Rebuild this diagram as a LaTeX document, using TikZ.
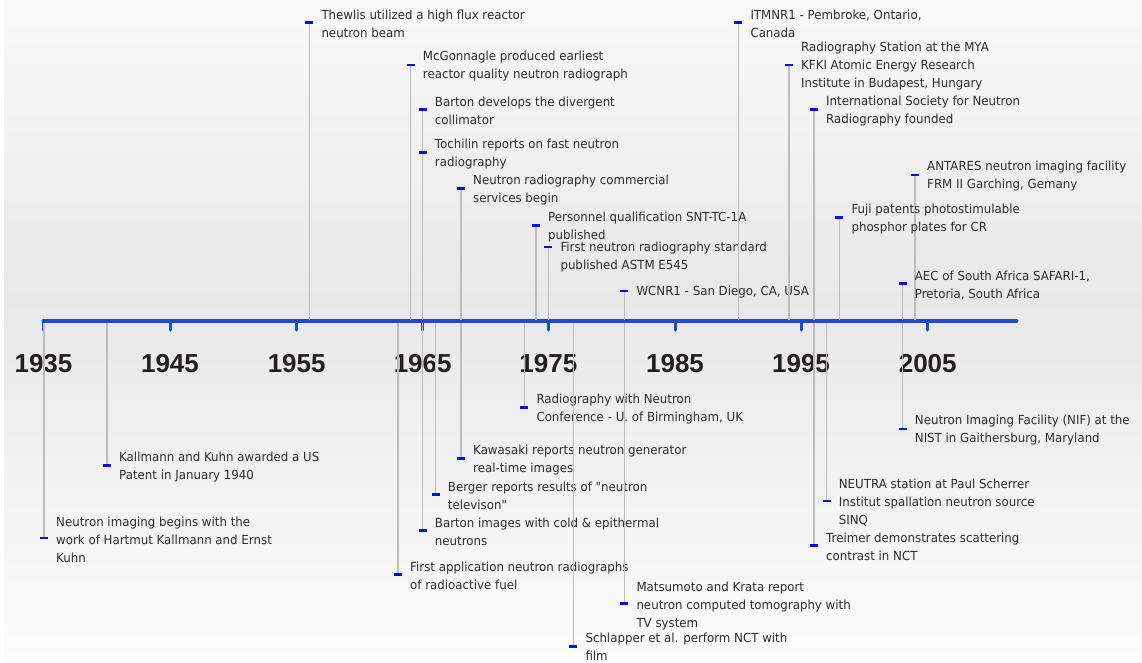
\documentclass[tikz,border=0pt]{standalone}
\usepackage{fontspec}
\setmainfont{DejaVu Sans}[FakeStretch=0.945, Ligatures=TeXOff]
\newfontfamily\yearfont{Liberation Sans}
\usetikzlibrary{calc}
\definecolor{axisblue}{RGB}{30,76,190}
\definecolor{dashblue}{RGB}{10,10,232}
\definecolor{stemgray}{RGB}{188,188,188}
\definecolor{txtgray}{RGB}{44,44,44}
\definecolor{yeargray}{RGB}{35,31,32}
\definecolor{bgtop}{RGB}{249,249,249}
\definecolor{bgmid}{RGB}{232,232,232}
\definecolor{bgbot}{RGB}{252,252,252}
\tikzset{
  stem/.style={draw=stemgray, line width=1.2pt},
  dashmark/.style={draw=dashblue, line width=2.5pt},
  evtext/.style={anchor=west, align=left, inner sep=0pt, text=txtgray,
    font=\fontsize{12.5}{18}\selectfont},
  yearlabel/.style={inner sep=0pt, text=yeargray,
    font=\yearfont\bfseries\fontsize{26}{28}\selectfont},
  axisline/.style={draw=axisblue, line width=3.5pt, line cap=round},
  axistick/.style={draw=axisblue, line width=3pt, line cap=round},
}
% above-axis event: name, x, y, text ; optional extra vertical text offset
\newcommand\evup[5][0]{%
  \coordinate (#2-a) at (#3,319.5);
  \coordinate (#2-d) at (#3,#4);
  \draw[stem] (#2-a) -- (#2-d);
  \draw[dashmark] ([xshift=-4pt]#2-d) -- ([xshift=4pt]#2-d);
  \node[evtext] (#2) at ([xshift=12pt, yshift=-1.5pt-#1pt]#2-d) {#5};
}
% below-axis event
\newcommand\evdown[5][0]{%
  \coordinate (#2-a) at (#3,322.5);
  \coordinate (#2-d) at (#3,#4);
  \draw[stem] (#2-a) -- (#2-d);
  \draw[dashmark] ([xshift=-4pt]#2-d) -- ([xshift=4pt]#2-d);
  \node[evtext] (#2) at ([xshift=12pt, yshift=-1.5pt-#1pt]#2-d) {#5};
}
\begin{document}
\begin{tikzpicture}[x=1pt, y=-1pt]
\useasboundingbox (0,0) rectangle (1142,662);
% background
\shade[top color=bgtop, bottom color=bgmid, draw=none] (0,0) rectangle (1142,300);
\shade[top color=bgmid, bottom color=bgbot, draw=none] (0,299.5) rectangle (1142,662);
\fill[white] (0,0) rectangle (4,662);

% axis
\coordinate (axL) at (43.3,321);
\coordinate (axR) at (1016.7,321);
\draw[axisline] (axL) -- (axR);
\foreach \yr/\xx in {1935/43.5, 1945/170, 1955/296.7, 1965/422.7, 1975/548.3, 1985/675, 1995/801, 2005/927.7}{
  \coordinate (t\yr) at (\xx,321);
  \coordinate (tb\yr) at (\xx,330);
  \draw[axistick] (t\yr) -- (tb\yr);
  \node[yearlabel] (y\yr) at (\xx,363.5) {\yr};
}

% events above the axis
\evup{thewlis}{309.3}{22.3}{Thewlis utilized a high flux reactor\\neutron beam}
\evup{mcgon}{410.7}{65}{McGonnagle produced earliest\\reactor quality neutron radiograph}
\evup{bartondiv}{422.7}{109.3}{Barton develops the divergent\\collimator}
\evup{tochilin}{422.7}{152.3}{Tochilin reports on fast neutron\\radiography}
\evup{commercial}{461}{188.7}{Neutron radiography commercial\\services begin}
\evup{personnel}{536}{225.7}{Personnel qualification SNT-TC-1A\\published}
\evup[8.5]{standard}{548.3}{247}{First neutron radiography standard\\published ASTM E545}
\evup{wcnr}{624.3}{291}{WCNR1 - San Diego, CA, USA}
\evup{itmnr}{738.3}{22.3}{ITMNR1 - Pembroke, Ontario,\\Canada}
\evup{kfki}{789}{65}{Radiography Station at the MYA\\KFKI Atomic Energy Research\\Institute in Budapest, Hungary}
\evup{isnr}{814}{109.3}{International Society for Neutron\\Radiography founded}
\evup{antares}{915}{175}{ANTARES neutron imaging facility\\FRM II Garching, Gemany}
\evup{fuji}{839.3}{217.7}{Fuji patents photostimulable\\phosphor plates for CR}
\evup{aec}{902.7}{283.7}{AEC of South Africa SAFARI-1,\\Pretoria, South Africa}

% events below the axis
\evdown{begins}{44}{538}{Neutron imaging begins with the\\work of Hartmut Kallmann and Ernst\\Kuhn}
\evdown{patent}{107}{465.3}{Kallmann and Kuhn awarded a US\\Patent in January 1940}
\evdown{firstapp}{398}{574.7}{First application neutron radiographs\\of radioactive fuel}
\evdown{bartoncold}{422.7}{530.3}{Barton images with cold \& epithermal\\neutrons}
\evdown{berger}{435.7}{494.3}{Berger reports results of "neutron\\televison"}
\evdown{kawasaki}{461}{458.5}{Kawasaki reports neutron generator\\real-time images}
\evdown{birmingham}{524.3}{407.3}{Radiography with Neutron\\Conference - U. of Birmingham, UK}
\evdown[-1.5]{schlapper}{573.3}{646.3}{Schlapper et al. perform NCT with\\film}
\evdown[1]{matsumoto}{624.3}{603.7}{Matsumoto and Krata report\\neutron computed tomography with\\TV system}
\evdown{nif}{902.7}{429}{Neutron Imaging Facility (NIF) at the\\NIST in Gaithersburg, Maryland}
\evdown{neutra}{826.7}{501}{NEUTRA station at Paul Scherrer\\Institut spallation neutron source\\SINQ}
\evdown{treimer}{814}{545.3}{Treimer demonstrates scattering\\contrast in NCT}
\end{tikzpicture}
\end{document}
